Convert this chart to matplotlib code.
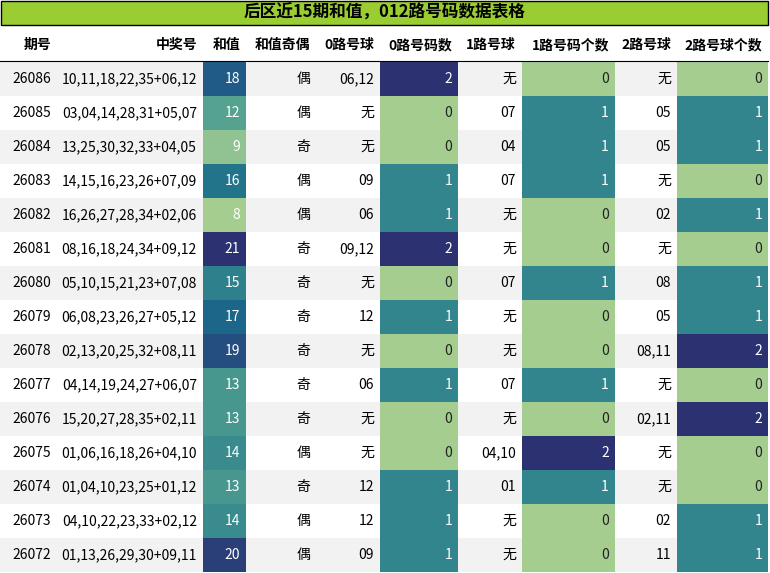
import matplotlib
matplotlib.use("Agg")
import matplotlib.pyplot as plt
import seaborn as sns
from matplotlib.patches import Rectangle
from matplotlib.colors import Normalize

plt.rcParams['font.family'] = ['Noto Sans CJK SC', 'DejaVu Sans']

title = "后区近15期和值，012路号码数据表格"
headers = ["期号", "中奖号", "和值", "和值奇偶", "0路号球", "0路号码数", "1路号球", "1路号码个数", "2路号球", "2路号球个数"]
issues = ["26086","26085","26084","26083","26082","26081","26080","26079","26078","26077","26076","26075","26074","26073","26072"]
numbers = ["10,11,18,22,35+06,12","03,04,14,28,31+05,07","13,25,30,32,33+04,05","14,15,16,23,26+07,09",
           "16,26,27,28,34+02,06","08,16,18,24,34+09,12","05,10,15,21,23+07,08","06,08,23,26,27+05,12",
           "02,13,20,25,32+08,11","04,14,19,24,27+06,07","15,20,27,28,35+02,11","01,06,16,18,26+04,10",
           "01,04,10,23,25+01,12","04,10,22,23,33+02,12","01,13,26,29,30+09,11"]
sums = [18,12,9,16,8,21,15,17,19,13,13,14,13,14,20]
parity = ["偶","偶","奇","偶","偶","奇","奇","奇","奇","奇","奇","偶","奇","偶","偶"]
r0_balls = ["06,12","无","无","09","06","09,12","无","12","无","06","无","无","12","12","09"]
r0_cnt = [2,0,0,1,1,2,0,1,0,1,0,0,1,1,1]
r1_balls = ["无","07","04","07","无","无","07","无","无","07","无","04,10","01","无","无"]
r1_cnt = [0,1,1,1,0,0,1,0,0,1,0,2,1,0,0]
r2_balls = ["无","05","05","无","02","无","08","05","08,11","无","02,11","无","无","02","11"]
r2_cnt = [0,1,1,0,1,0,1,1,2,0,2,0,0,1,1]

W, H = 770, 573
fig = plt.figure(figsize=(7.7, 5.73), dpi=100)
ax = fig.add_axes([0, 0, 1, 1])
ax.set_xlim(0, W); ax.set_ylim(H, 0); ax.axis('off')

xs = [0, 57, 203, 246, 316, 380, 458, 522, 615, 677, 768]
title_h, head_y0, head_y1 = 26, 26, 62
row_h = 34
cmap = sns.color_palette("crest", as_cmap=True)
norm_sum = Normalize(min(sums), max(sums))
norm_cnt = Normalize(0, 2)

ax.add_patch(Rectangle((1, 1), 767, 24, facecolor="#9acd32", edgecolor="black", lw=1))
ax.text(W/2, 13, title, ha='center', va='center', fontsize=12, fontweight='bold')

for i, h in enumerate(headers):
    ax.text(xs[i+1] - 6, 45, h, ha='right', va='center', fontsize=10, fontweight='bold')
ax.plot([0, 768], [61, 61], color='black', lw=0.8)

for r in range(len(issues)):
    y0 = head_y1 + r * row_h
    yc = y0 + row_h / 2
    bg = "#f2f2f2" if r % 2 == 0 else "white"
    ax.add_patch(Rectangle((0, y0), 768, row_h, facecolor=bg, edgecolor='none'))
    vals = [issues[r], numbers[r], str(sums[r]), parity[r], r0_balls[r], str(r0_cnt[r]),
            r1_balls[r], str(r1_cnt[r]), r2_balls[r], str(r2_cnt[r])]
    for c, v in enumerate(vals):
        color = 'black'
        if c == 2:
            ax.add_patch(Rectangle((xs[c], y0), xs[c+1]-xs[c], row_h, facecolor=cmap(norm_sum(sums[r])), edgecolor='none'))
            color = 'white'
        elif c in (5, 7, 9):
            cnt = [r0_cnt, r1_cnt, r2_cnt][(c - 5) // 2][r]
            ax.add_patch(Rectangle((xs[c], y0), xs[c+1]-xs[c], row_h, facecolor=cmap(norm_cnt(cnt)), edgecolor='none'))
            color = '#222222' if cnt == 0 else 'white'
        ax.text(xs[c+1] - 6, yc, v, ha='right', va='center', fontsize=10, color=color)

fig.savefig("out.png", dpi=100)
